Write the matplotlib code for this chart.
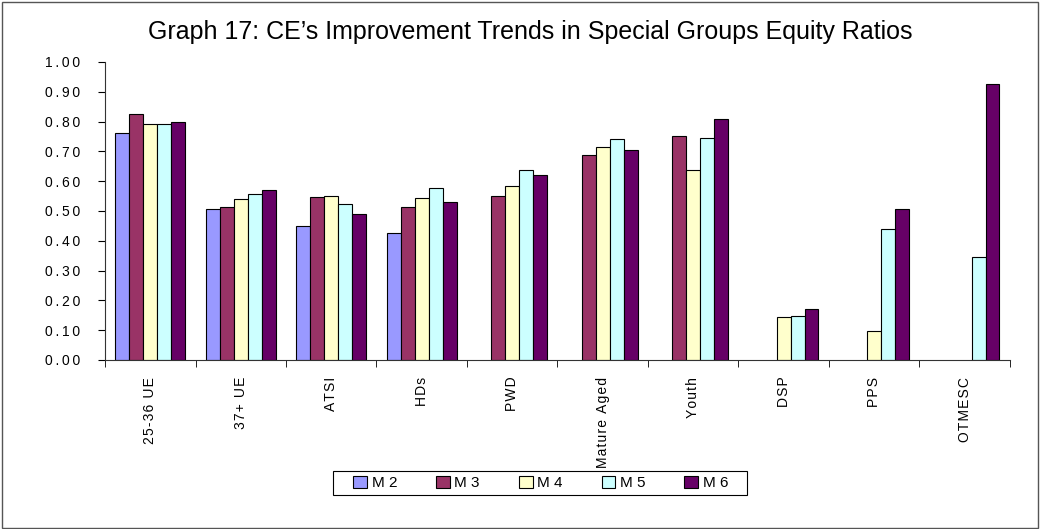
import numpy as np
import matplotlib
matplotlib.use("Agg")
import matplotlib.pyplot as plt
from matplotlib.patches import Rectangle

plt.rcParams['font.family'] = ['Liberation Sans', 'DejaVu Sans']

# data (nan = no bar)
categories = ["25-36 UE", "37+ UE", "ATSI", "HDs", "PWD", "Mature Aged",
              "Youth", "DSP", "PPS", "OTMESC"]
series_names = ["M 2", "M 3", "M 4", "M 5", "M 6"]
nan = np.nan
m2 = [0.76, 0.507, 0.45, 0.425, nan, nan, nan, nan, nan, nan]
m3 = [0.825, 0.513, 0.547, 0.513, 0.55, 0.688, 0.75, nan, nan, nan]
m4 = [0.79, 0.54, 0.55, 0.543, 0.583, 0.716, 0.638, 0.145, 0.097, nan]
m5 = [0.793, 0.557, 0.523, 0.578, 0.636, 0.74, 0.745, 0.147, 0.44, 0.345]
m6 = [0.80, 0.57, 0.49, 0.53, 0.622, 0.703, 0.81, 0.17, 0.505, 0.925]
colors = ["#9999FF", "#993366", "#FFFFCC", "#CCFFFF", "#660066"]
title = "Graph 17: CE\u2019s Improvement Trends in Special Groups Equity Ratios"


def spaced(s, sp="\u200a"):
    # the reference text is drawn with wider letter spacing
    return sp.join(s)


fig = plt.figure(figsize=(10.4, 5.29), dpi=100)
fig.patches.append(Rectangle((0.002, 0.002), 0.996, 0.995, transform=fig.transFigure,
                             fill=False, edgecolor="#555555", linewidth=1))
ax = fig.add_axes([0.101, 0.3195, 0.87, 0.5635])

x = np.arange(len(categories))
w = 0.154
all_series = [m2, m3, m4, m5, m6]
for i, vals in enumerate(all_series):
    v = np.array(vals, dtype=float)
    mask = ~np.isnan(v)
    ax.bar(x[mask] + (i - 2) * w, v[mask], width=w, color=colors[i],
           edgecolor="black", linewidth=0.8, label=series_names[i])

ax.set_xlim(-0.5, len(categories) - 0.5)
ax.set_ylim(0, 1.0)
yt = np.arange(0, 1.01, 0.1)
ax.set_yticks(yt)
ax.set_yticklabels([spaced(f"{t:.2f}", "\u2009") for t in yt], fontsize=10)
ax.set_xticks(x)
ax.set_xticklabels([spaced(c) for c in categories], rotation=90, fontsize=10)
ax.tick_params(axis='x', length=0, pad=12)
ax.set_xticks(np.arange(-0.5, len(categories)), minor=True)
ax.tick_params(axis='x', which='minor', length=5, direction='out')
ax.tick_params(axis='y', length=5, direction='out', pad=13)
ax.spines['top'].set_visible(False)
ax.spines['right'].set_visible(False)
ax.spines['left'].set_color("#333333")
ax.spines['bottom'].set_color("#333333")

fig.text(0.51, 0.94, title, ha='center', va='center', fontsize=18)

leg = fig.legend(loc='center', bbox_to_anchor=(0.52, 0.087), ncol=5, fontsize=11,
                 frameon=False, handlelength=0.9, handleheight=0.9,
                 handletextpad=0.3, columnspacing=2.55)
# legend box is wider than matplotlib's default frame
fig.patches.append(Rectangle((0.320, 0.064), 0.398, 0.046, transform=fig.transFigure,
                             fill=False, edgecolor="black", linewidth=0.8))

fig.savefig("out.png", dpi=100)
